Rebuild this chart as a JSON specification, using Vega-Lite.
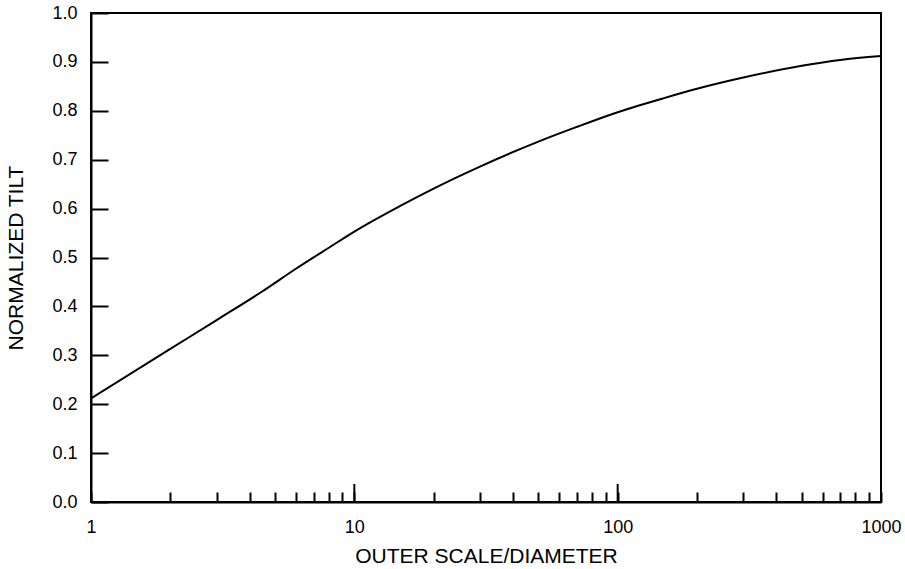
{
  "$schema": "https://vega.github.io/schema/vega-lite/v6.json",
  "autosize": "none",
  "padding": {"left": 91, "top": 13, "right": 24, "bottom": 67},
  "width": 790,
  "height": 489,
  "background": "white",
  "config": {
    "view": {"stroke": "black", "strokeWidth": 2},
    "axis": {
      "font": "Liberation Sans",
      "labelFont": "Liberation Sans",
      "titleFont": "Liberation Sans",
      "labelColor": "black",
      "titleColor": "black",
      "domainColor": "black",
      "domainWidth": 2,
      "tickColor": "black",
      "tickWidth": 2,
      "grid": false,
      "labelFontSize": 18,
      "titleFontSize": 21,
      "titleFontWeight": "normal"
    }
  },
  "datasets": {
    "curve": [
      {"ratio": 1, "tilt": 0.212},
      {"ratio": 2, "tilt": 0.313},
      {"ratio": 3, "tilt": 0.372},
      {"ratio": 4.45, "tilt": 0.430},
      {"ratio": 6, "tilt": 0.477},
      {"ratio": 8, "tilt": 0.520},
      {"ratio": 10, "tilt": 0.553},
      {"ratio": 15, "tilt": 0.606},
      {"ratio": 20, "tilt": 0.641},
      {"ratio": 30, "tilt": 0.686},
      {"ratio": 50, "tilt": 0.737},
      {"ratio": 70, "tilt": 0.767},
      {"ratio": 100, "tilt": 0.797},
      {"ratio": 150, "tilt": 0.826},
      {"ratio": 200, "tilt": 0.845},
      {"ratio": 300, "tilt": 0.868},
      {"ratio": 500, "tilt": 0.892},
      {"ratio": 700, "tilt": 0.904},
      {"ratio": 1000, "tilt": 0.912}
    ],
    "majorTicks": [
      {"ratio": 10, "y0": 0, "y1": 0.037},
      {"ratio": 100, "y0": 0, "y1": 0.037}
    ]
  },
  "layer": [
    {
      "data": {"name": "curve"},
      "mark": {"type": "line", "color": "black", "strokeWidth": 2, "interpolate": "monotone", "clip": true},
      "encoding": {
        "x": {
          "field": "ratio",
          "type": "quantitative",
          "scale": {"type": "log", "domain": [1, 1000], "nice": false},
          "axis": {
            "title": "OUTER SCALE/DIAMETER",
            "values": [1, 2, 3, 4, 5, 6, 7, 8, 9, 10, 20, 30, 40, 50, 60, 70, 80, 90, 100, 200, 300, 400, 500, 600, 700, 800, 900, 1000],
            "labelExpr": "indexof([1,10,100,1000], datum.value) >= 0 ? datum.value : ''",
            "tickSize": -10,
            "labelPadding": 26,
            "labelBaseline": "top",
            "labelFlush": false,
            "labelOverlap": false,
            "titleBaseline": "middle",
            "titleY": 54
          }
        },
        "y": {
          "field": "tilt",
          "type": "quantitative",
          "scale": {"domain": [0, 1], "nice": false},
          "axis": {
            "title": "NORMALIZED TILT",
            "values": [0, 0.1, 0.2, 0.3, 0.4, 0.5, 0.6, 0.7, 0.8, 0.9, 1.0],
            "format": ".1f",
            "tickSize": -17,
            "labelPadding": 31,
            "labelFlush": false,
            "labelOverlap": false,
            "titleBaseline": "middle",
            "titleX": -75
          }
        }
      }
    },
    {
      "data": {"name": "majorTicks"},
      "mark": {"type": "rule", "color": "black", "strokeWidth": 2},
      "encoding": {
        "x": {"field": "ratio", "type": "quantitative"},
        "y": {"field": "y0", "type": "quantitative"},
        "y2": {"field": "y1"}
      }
    }
  ]
}
